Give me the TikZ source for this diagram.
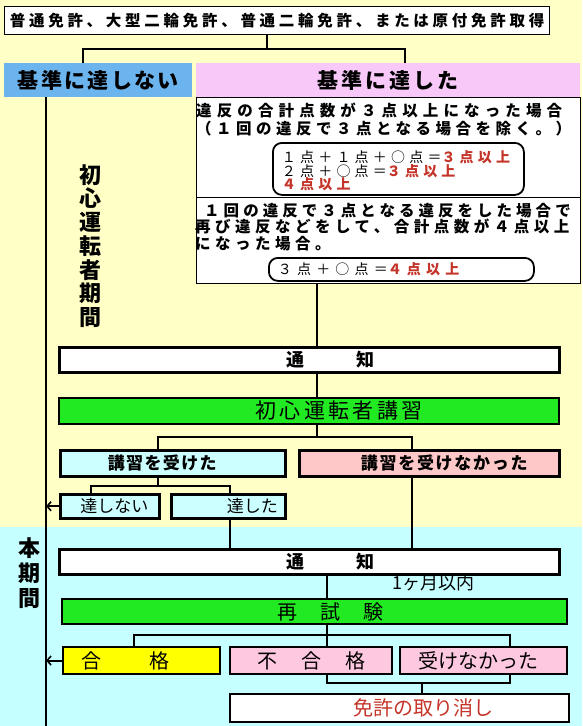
\documentclass[tikz,border=0pt]{standalone}
\usepackage{fontspec}
\setmainfont{Noto Sans CJK JP}
\usetikzlibrary{arrows.meta}
\definecolor{ybg}{RGB}{255,255,198}
\definecolor{cbg}{RGB}{198,255,255}
\definecolor{hblue}{RGB}{108,180,238}
\definecolor{hpink}{RGB}{248,200,248}
\definecolor{grn}{RGB}{34,234,34}
\definecolor{lcyan}{RGB}{204,255,255}
\definecolor{salmon}{RGB}{255,200,200}
\definecolor{pinkb}{RGB}{255,200,225}
\definecolor{ylw}{RGB}{255,255,0}
\definecolor{redt}{RGB}{196,52,40}
\newcommand\lsp[2]{{\addfontfeature{LetterSpace=#1}#2}}
\newcommand\fs[1]{\fontsize{#1}{#1}\selectfont}
\tikzset{
  tbox/.style={draw, line width=1.2pt, fill=white, anchor=north west, inner sep=0pt},
  hdr/.style={anchor=north west, inner sep=0pt},
  lbox/.style={draw, line width=2.5pt, anchor=north west, inner sep=0pt},
  rbox/.style={draw, line width=1.8pt, rounded corners=9pt, fill=white, anchor=north west, inner sep=0pt, inner xsep=9pt, align=left},
  conn/.style={line width=2pt},
  arr/.style={line width=2pt, -{Straight Barb[length=4pt,width=9pt,line width=1.6pt]}},
}
\begin{document}
\begin{tikzpicture}[x=1pt,y=-1pt]
\useasboundingbox (0,0) rectangle (582,726);
\fill[ybg] (0,0) rectangle (582,527);
\fill[cbg] (0,527) rectangle (582,726);

% top
\node[tbox, minimum width=545, minimum height=28] (top) at (4,6) {\fs{15.5}\bfseries\lsp{24}{普通免許、大型二輪免許、普通二輪免許、または原付免許取得}};
\node[hdr, fill=hblue, minimum width=188, minimum height=34] (nolvl) at (4,63) {\fs{21}\bfseries\lsp{11}{基準に達しない}};
\node[hdr, fill=hpink, minimum width=384, minimum height=34] (yeslvl) at (196,63) {\fs{21}\bfseries\lsp{14}{基準に達した}};
\node[draw, line width=1pt, fill=white, anchor=north west, inner sep=0pt, minimum width=384, minimum height=186] (crit) at (196,97) {};
\coordinate (dv) at (0,197);
\draw[line width=1pt] (crit.west |- dv) -- (crit.east |- dv);

\node[anchor=west, inner sep=0pt, align=left, font=\fontsize{15.5}{18}\selectfont\bfseries] (s1) at (196,119)
 {\lsp{33}{違反の合計点数が３点以上になった場合}\\\lsp{29}{（１回の違反で３点となる場合を除く。）}};
\node[rbox, minimum width=251, minimum height=52, text width=233, font=\fontsize{14}{13.5}\selectfont] (r1) at (272,142)
 {\rule{0pt}{16pt}\lsp{30}{１点＋１点＋○点＝}{\bfseries\color{redt}\lsp{30}{３点以上}}\\
  \lsp{30}{２点＋○点＝}{\bfseries\color{redt}\lsp{30}{３点以上}}\\
  {\bfseries\color{redt}\lsp{30}{４点以上}}};

\node[anchor=west, inner sep=0pt, align=left, font=\fontsize{15.5}{16.5}\selectfont\bfseries] (s2) at (195,227)
 {\hspace*{9pt}\lsp{26}{１回の違反で３点となる違反をした場合で}\\\lsp{29}{再び違反などをして、合計点数が４点以上}\\\lsp{29}{になった場合。}};
\node[rbox, minimum width=265, minimum height=23, text width=247, font=\fontsize{14}{14}\selectfont] (r2) at (268,257)
 {\lsp{37}{３点＋○点＝}{\bfseries\color{redt}\lsp{37}{４点以上}}};

% connectors top
\coordinate (j1) at (267,49);
\coordinate (jA) at (83,49);
\coordinate (jB) at (405,49);
\draw[conn] (top.south -| j1) -- (j1);
\draw[conn] (nolvl.north -| jA) |- (jB) -- (yeslvl.north -| jB);

% left line and vertical texts
\coordinate (lb) at (46,726);
\draw[conn] (nolvl.south -| lb) -- (lb);
\node[font=\fontsize{22}{23.7}\selectfont\bfseries, align=center, inner sep=0pt] (vt1) at (90,246) {初\\心\\運\\転\\者\\期\\間};
\node[font=\fontsize{22}{25}\selectfont\bfseries, align=center, inner sep=0pt] (vt2) at (30,573) {本\\期\\間};

% lower boxes
\node[lbox, fill=white, minimum width=500, minimum height=25] (n1) at (58,346) {\fs{18}\bfseries\hspace*{42pt}通\hspace{52pt}知};
\node[lbox, line width=2pt, fill=grn, minimum width=500, minimum height=26] (kosyu) at (58,397) {\fs{21}\hspace*{60pt}\lsp{16}{初心運転者講習}};
\node[lbox, fill=lcyan, minimum width=225, minimum height=26] (uketa) at (59,449) {\fs{17}\bfseries\lsp{8}{講習を受けた}\hspace*{21pt}};
\node[lbox, fill=salmon, minimum width=260, minimum height=26] (ukenai) at (298,449) {\fs{17}\bfseries\hspace*{30pt}\lsp{10}{講習を受けなかった}};
\node[lbox, fill=lcyan, minimum width=99, minimum height=24] (tassi) at (59,493) {\fs{17}\hspace*{9pt}達しない};
\node[lbox, fill=lcyan, minimum width=114, minimum height=24] (tasita) at (170,493) {\fs{17}\hspace*{48pt}達した};
\node[lbox, fill=white, minimum width=500, minimum height=25] (n2) at (58,548) {\fs{18}\bfseries\hspace*{42pt}通\hspace{52pt}知};
\node[anchor=west, inner sep=0pt, font=\fs{18}] (m1) at (392,583) {1ヶ月以内};
\node[lbox, line width=2pt, fill=grn, minimum width=505, minimum height=25] (saisi) at (61,598) {\fs{20}\hspace*{31pt}再\hspace{23pt}試\hspace{23pt}験};
\node[lbox, line width=2pt, fill=ylw, minimum width=157, minimum height=27] (gokaku) at (62,646) {\fs{20}合\hspace{48pt}格\hspace*{33pt}};
\node[lbox, line width=2pt, fill=pinkb, minimum width=162, minimum height=27] (fugo) at (229,646) {\fs{20}不\hspace{24pt}合\hspace{24pt}格};
\node[lbox, line width=2pt, fill=pinkb, minimum width=167, minimum height=27] (ukena2) at (399,646) {\fs{20}受けなかった\hspace*{11pt}};
\node[lbox, line width=2pt, fill=white, minimum width=339, minimum height=28] (menkyo) at (229,693) {\fs{20}\hspace*{47pt}\color{redt}免許の取り消し};

% lower connectors
\coordinate (c1) at (317,300);
\draw[conn] (crit.south -| c1) -- (n1.north -| c1);
\draw[conn] (n1.south -| c1) -- (kosyu.north -| c1);
\coordinate (c2) at (158,437);
\coordinate (c3) at (412,437);
\draw[conn] (kosyu.south -| c1) -- (c1 |- c2);
\draw[conn] (uketa.north -| c2) |- (c3) -- (ukenai.north -| c3);
\coordinate (c4) at (91,486);
\coordinate (c5) at (230,486);
\draw[conn] (uketa.south -| c2) -- (c2 |- c4);
\draw[conn] (tassi.north -| c4) |- (c5) -- (tasita.north -| c5);
\draw[conn] (tasita.south -| c5) -- (n2.north -| c5);
\draw[conn] (ukenai.south -| c3) -- (n2.north -| c3);
\draw[arr] (tassi.west) -- (tassi.west -| lb);

\coordinate (c6) at (327,635);
\coordinate (c7) at (134,635);
\coordinate (c8) at (510,635);
\draw[conn, line width=1.6pt] (n2.south -| c6) -- (saisi.north -| c6);
\draw[conn, line width=1.6pt] (saisi.south -| c6) -- (fugo.north -| c6);
\draw[conn, line width=1.6pt] (gokaku.north -| c7) |- (c8) -- (ukena2.north -| c8);
\coordinate (c10) at (327,683);
\coordinate (c11) at (510,683);
\coordinate (c12) at (422,683);
\draw[conn, line width=1.6pt] (fugo.south -| c10) -- (c10) -- (c11) -- (ukena2.south -| c11);
\draw[conn, line width=1.6pt] (c12) -- (menkyo.north -| c12);
\draw[arr] (gokaku.west) -- (gokaku.west -| lb);
\end{tikzpicture}
\end{document}
